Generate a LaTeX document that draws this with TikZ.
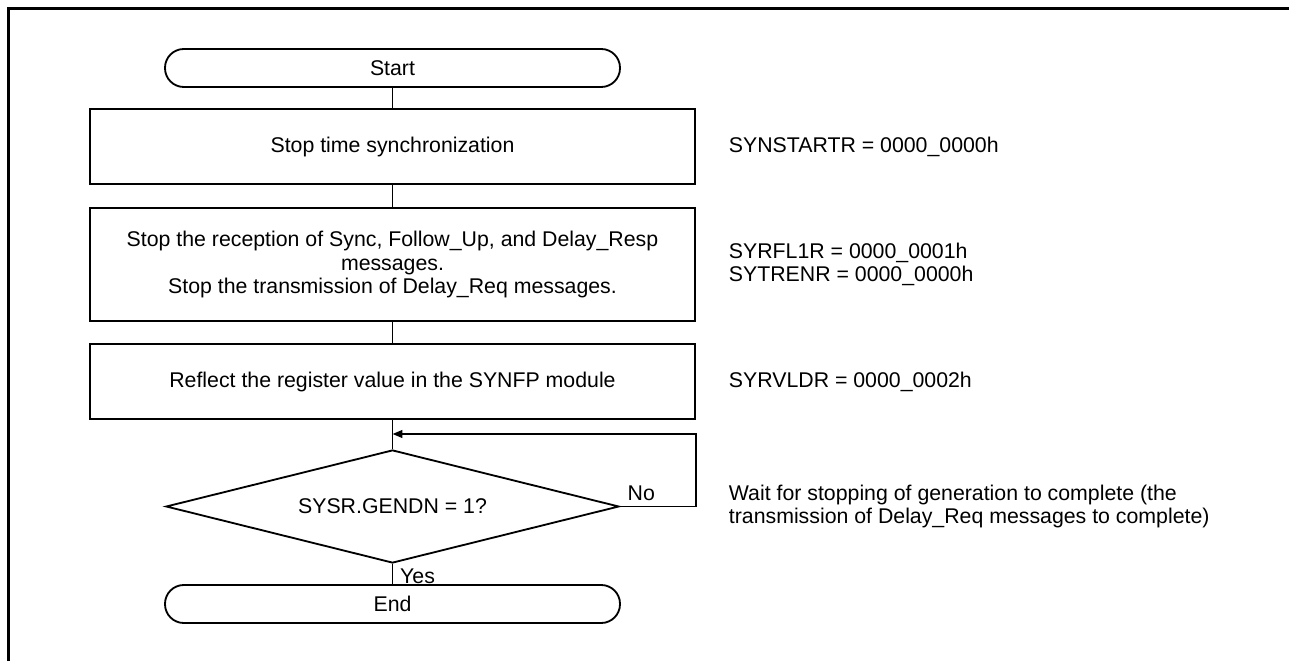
\documentclass[tikz,border=0pt]{standalone}
\usepackage{fontspec}
\setmainfont{Liberation Sans}
\usetikzlibrary{arrows.meta, positioning, shapes.geometric}
\tikzset{
  every picture/.style={font=\fontsize{15.15}{16.4}\selectfont, line width=1.3pt},
  box/.style={draw, align=center, minimum width=15.125cm, minimum height=#1, inner sep=0pt},
  box/.default=1.875cm,
  term/.style={draw, rounded corners=0.47cm, minimum width=11.375cm, minimum height=0.95cm, inner sep=0pt},
  decision/.style={draw, diamond, aspect=4, minimum width=11.325cm, minimum height=2.825cm, inner sep=0pt},
  arrow/.style={-{Triangle[length=7pt, width=5.5pt]}},
  note/.style={anchor=west, align=left, inner sep=0pt},
  lbl/.style={inner sep=0pt},
}

\begin{document}
\begin{tikzpicture}
  \useasboundingbox (0,0) rectangle (32.225,-16.525);
  % frame
  \draw[line width=2.2pt] (0.2125,-16.525) -- (0.2125,-0.2125) -- (32.225,-0.2125);
  % flow
  \node[term] (start) at (9.8125,-1.7) {Start};
  \node[box] (b1) at (9.8125,-3.6625) {Stop time synchronization};
  \node[box=2.825cm] (b2) at (9.8125,-6.6125) {Stop the reception of Sync, Follow\_Up, and Delay\_Resp\\messages.\\Stop the transmission of Delay\_Req messages.};
  \node[box] (b3) at (9.8125,-9.5375) {Reflect the register value in the SYNFP module};
  \node[decision] (dec) at (9.8125,-12.6625) {SYSR.GENDN = 1?};
  \node[term] (end) at (9.8125,-15.1) {End};
  \coordinate (join) at (9.8125,-10.85);
  \draw (start) -- (b1);
  \draw (b1) -- (b2);
  \draw (b2) -- (b3);
  \draw (b3) -- (dec);
  \draw (dec) -- (end);
  \draw[arrow] (dec.east) -- (dec.east -| b3.east) |- (join);
  \node[lbl, anchor=south west] (no) at ([shift={(0.17,0.12)}]dec.east) {No};
  \node[lbl, anchor=north west] (yes) at ([shift={(0.17,-0.1)}]dec.south) {Yes};
  % register notes
  \node[note] (n1) at (18.2,-3.6625) {SYNSTARTR = 0000\_0000h};
  \node[note] (n2) at (18.2,-6.6125) {SYRFL1R = 0000\_0001h\\SYTRENR = 0000\_0000h};
  \node[note] (n3) at (18.2,-9.5375) {SYRVLDR = 0000\_0002h};
  \node[note] (n4) at (18.2,-12.6625) {Wait for stopping of generation to complete (the\\transmission of Delay\_Req messages to complete)};
\end{tikzpicture}
\end{document}
